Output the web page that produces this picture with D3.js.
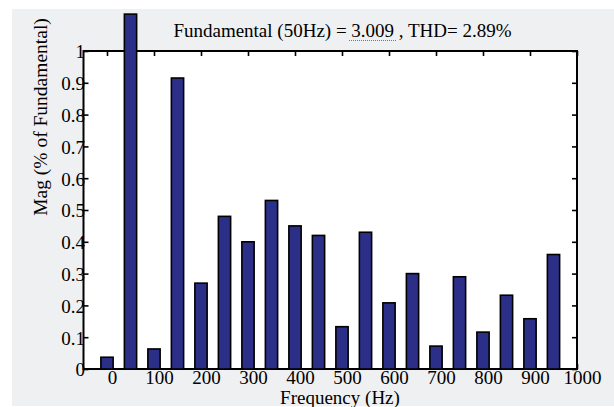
<!DOCTYPE html>
<html>
<head>
<meta charset="utf-8">
<script src="https://cdn.jsdelivr.net/npm/d3@7"></script>
<style>
  html, body { margin: 0; padding: 0; background: #ffffff; }
  svg { display: block; }
  text { font-family: "Liberation Serif", "Times New Roman", serif; fill: #000; }
</style>
</head>
<body>
<svg id="chart" width="614" height="407"></svg>
<script>
// Harmonic spectrum: bin frequency (Hz) and magnitude relative to the fundamental
const freqs = [0, 50, 100, 150, 200, 250, 300, 350, 400, 450, 500, 550, 600, 650, 700, 750, 800, 850, 900, 950];
const mags  = [0.037, 1.116, 0.063, 0.915, 0.27, 0.48, 0.40, 0.53, 0.45, 0.42, 0.133, 0.43, 0.208, 0.30, 0.072, 0.29, 0.116, 0.232, 0.158, 0.36];

const xTicks = [0, 100, 200, 300, 400, 500, 600, 700, 800, 900, 1000];
const yTicks = [0, 0.1, 0.2, 0.3, 0.4, 0.5, 0.6, 0.7, 0.8, 0.9, 1];

const titleText = "Fundamental (50Hz) = 3.009 , THD= 2.89%";
const xLabel = "Frequency (Hz)";
const yLabel = "Mag (% of Fundamental)";

const W = 614, H = 407;
const plot = { left: 83.5, right: 577, top: 51, bottom: 369 };

const svg = d3.select("#chart");

// figure background
svg.append("rect").attr("x", 0).attr("y", 0).attr("width", W).attr("height", H).attr("fill", "#ffffff");
svg.append("rect").attr("x", 12).attr("y", 9).attr("width", W - 12).attr("height", H - 10).attr("fill", "#eff0f2");

const x = d3.scaleLinear().domain([-50, 1000]).range([plot.left, plot.right]);
const y = d3.scaleLinear().domain([0, 1]).range([plot.bottom, plot.top]);

// axes area
svg.append("rect")
  .attr("x", plot.left).attr("y", plot.top)
  .attr("width", plot.right - plot.left).attr("height", plot.bottom - plot.top)
  .attr("fill", "#ffffff");

const tickFont = "19px";
const serif = '"Liberation Serif", "Times New Roman", serif';

// left axis: inward ticks, labels tight against the frame
const gLeft = svg.append("g").attr("transform", `translate(${plot.left},0)`)
  .call(d3.axisLeft(y).tickValues(yTicks).tickFormat(d3.format("~g")).tickSizeInner(-5).tickSizeOuter(0).tickPadding(-1.5));
gLeft.select(".domain").remove();
gLeft.selectAll("line").attr("stroke", "#000").attr("stroke-width", 1.6);
gLeft.selectAll("text").attr("font-size", tickFont).attr("fill", "#000")
  .style("font-family", serif).attr("dy", "0.36em");

// right axis: ticks only
const gRight = svg.append("g").attr("transform", `translate(${plot.right},0)`)
  .call(d3.axisRight(y).tickValues(yTicks).tickFormat("").tickSizeInner(-5).tickSizeOuter(0));
gRight.select(".domain").remove();
gRight.selectAll("line").attr("stroke", "#000").attr("stroke-width", 1.6);

// top axis: ticks only
const gTop = svg.append("g").attr("transform", `translate(0,${plot.top})`)
  .call(d3.axisTop(x).tickValues(xTicks).tickFormat("").tickSizeInner(-5).tickSizeOuter(0));
gTop.select(".domain").remove();
gTop.selectAll("line").attr("stroke", "#000").attr("stroke-width", 1.6);

// bottom axis: inward ticks with labels
const gBottom = svg.append("g").attr("transform", `translate(0,${plot.bottom})`)
  .call(d3.axisBottom(x).tickValues(xTicks).tickFormat(d3.format("d")).tickSizeInner(-5).tickSizeOuter(0).tickPadding(1.5));
gBottom.select(".domain").remove();
gBottom.selectAll("line").attr("stroke", "#000").attr("stroke-width", 1.6);
gBottom.selectAll("text").attr("font-size", tickFont).attr("fill", "#000")
  .style("font-family", serif).attr("dx", 5);

// frame
svg.append("rect")
  .attr("x", plot.left).attr("y", plot.top)
  .attr("width", plot.right - plot.left).attr("height", plot.bottom - plot.top)
  .attr("fill", "none").attr("stroke", "#000").attr("stroke-width", 2);

// bars
const barW = x(25) - x(0) + 0.5;
svg.append("g").selectAll("rect")
  .data(freqs.map((f, i) => ({ f, m: mags[i] })))
  .join("rect")
  .attr("x", d => x(d.f) - barW / 2)
  .attr("y", d => y(d.m))
  .attr("width", barW)
  .attr("height", d => y(0) - y(d.m))
  .attr("fill", "#2c2f88")
  .attr("stroke", "#000")
  .attr("stroke-width", 1.6);

// title
svg.append("text")
  .attr("x", 342.5).attr("y", 37)
  .attr("text-anchor", "middle")
  .attr("font-size", "19px")
  .text(titleText);

// dotted blue underline under the fundamental value
svg.append("line")
  .attr("x1", 349).attr("x2", 396).attr("y1", 40.5).attr("y2", 40.5)
  .attr("stroke", "#6a6fd0").attr("stroke-width", 1.2).attr("stroke-dasharray", "1,1");

// axis labels
svg.append("text")
  .attr("x", 340).attr("y", 404)
  .attr("text-anchor", "middle")
  .attr("font-size", "19px")
  .text(xLabel);

svg.append("text")
  .attr("transform", "translate(47,117) rotate(-90)")
  .attr("text-anchor", "middle")
  .attr("font-size", "19.5px")
  .text(yLabel);
</script>
</body>
</html>
